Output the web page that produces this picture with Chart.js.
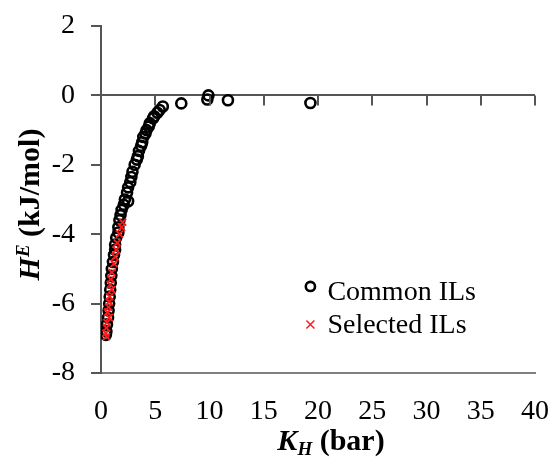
<!DOCTYPE html>
<html>
<head>
<meta charset="utf-8">
<script src="https://cdn.jsdelivr.net/npm/chart.js@4"></script>
<style>
  html, body { margin: 0; padding: 0; background: #fff; }
  #wrap { width: 552px; height: 457px; }
</style>
</head>
<body>
<div id="wrap"><canvas id="chart" width="552" height="457"></canvas></div>
<script>
// values
const commonX = [19.3, 11.7, 9.9, 9.8, 7.4, 5.7, 5.4, 5.2, 4.9, 4.8, 4.5, 4.4, 4.2, 4.1, 3.9, 3.8, 3.7, 3.5, 3.4, 3.3,
  3.1, 2.9, 2.8, 2.7, 2.5, 2.4, 2.2, 2.5, 2.1, 1.9, 1.8, 1.7, 1.6, 1.6, 1.4, 1.3, 1.3, 1.2, 1.1, 1.0,
  0.95, 0.9, 0.85, 0.8, 0.75, 0.7, 0.65, 0.55, 0.5, 0.45];
const commonY = [-0.22, -0.14, 0.0, -0.12, -0.23, -0.32, -0.42, -0.5, -0.6, -0.66, -0.8, -0.9, -1.0, -1.1, -1.2, -1.35, -1.45, -1.6, -1.75, -1.85,
  -2.0, -2.2, -2.35, -2.5, -2.65, -2.8, -3.0, -3.05, -3.15, -3.3, -3.45, -3.6, -3.8, -3.95, -4.1, -4.3, -4.45, -4.6, -4.8, -5.0,
  -5.2, -5.4, -5.6, -5.8, -6.0, -6.2, -6.4, -6.6, -6.8, -6.9];
const selectedX = [2.0, 1.9, 1.7, 1.5, 1.4, 1.3, 1.2, 1.0, 0.9, 0.85, 1.0, 0.8, 0.75, 0.7, 0.6, 0.75, 0.55, 0.5, 0.45, 0.5];
const selectedY = [-3.65, -3.8, -4.0, -4.25, -4.45, -4.65, -4.85, -5.1, -5.3, -5.45, -5.6, -5.8, -5.95, -6.1, -6.25, -6.4, -6.55, -6.7, -6.85, -6.95];
const seriesNames = ['Common ILs', 'Selected ILs'];
const xTicks = [0, 5, 10, 15, 20, 25, 30, 35, 40];
const yTicks = [2, 0, -2, -4, -6, -8];

const serif = "'Liberation Serif', 'Times New Roman', serif";
const axisGray = '#555555';

const toPoints = (xs, ys) => xs.map((x, i) => ({ x: x, y: ys[i] }));

// tick marks on the zero line, axis titles with sub/superscripts, legend inside the plot
const extras = {
  id: 'extras',
  afterDraw(chart) {
    const ctx = chart.ctx;
    const xs = chart.scales.x;
    const ys = chart.scales.y;
    const area = chart.chartArea;
    const y0 = ys.getPixelForValue(0);

    ctx.save();
    ctx.strokeStyle = axisGray;
    ctx.lineWidth = 2;
    xTicks.forEach(v => {
      if (v === 0) return;
      const px = Math.round(xs.getPixelForValue(v));
      ctx.beginPath();
      ctx.moveTo(px, y0);
      ctx.lineTo(px, y0 + 10);
      ctx.stroke();
    });

    // x title: K_H (bar)
    ctx.fillStyle = '#000';
    ctx.textBaseline = 'alphabetic';
    const big = 'bold italic 30px ' + serif;
    const small = 'bold italic 19px ' + serif;
    const plain = 'bold 30px ' + serif;
    ctx.font = big; const wK = ctx.measureText('K').width;
    ctx.font = small; const wH = ctx.measureText('H').width;
    ctx.font = plain; const wB = ctx.measureText(' (bar)').width;
    let cx = (area.left + area.right) / 2 + 13 - (wK + wH + wB) / 2;
    const by = 450;
    ctx.font = big; ctx.fillText('K', cx, by); cx += wK;
    ctx.font = small; ctx.fillText('H', cx, by + 5); cx += wH;
    ctx.font = plain; ctx.fillText(' (bar)', cx, by);

    // y title: H^E (kJ/mol)
    ctx.font = big; const w1 = ctx.measureText('H').width;
    ctx.font = small; const w2 = ctx.measureText('E').width;
    ctx.font = plain; const w3 = ctx.measureText(' (kJ/mol)').width;
    ctx.translate(39, (area.top + area.bottom) / 2 + 5);
    ctx.rotate(-Math.PI / 2);
    let tx = -(w1 + w2 + w3) / 2;
    ctx.font = big; ctx.fillText('H', tx, 0); tx += w1;
    ctx.font = small; ctx.fillText('E', tx, -10); tx += w2;
    ctx.font = plain; ctx.fillText(' (kJ/mol)', tx, 0);
    ctx.restore();

    // legend
    ctx.save();
    const ds = chart.data.datasets;
    const lx = xs.getPixelForValue(19.3);
    const rows = [ys.getPixelForValue(-5.65), ys.getPixelForValue(-6.6)];
    ds.forEach((d, i) => {
      const my = rows[i];
      ctx.strokeStyle = d.borderColor;
      if (d.pointStyle === 'circle') {
        ctx.lineWidth = 2.6;
        ctx.beginPath();
        ctx.arc(lx, my - 5, 4.6, 0, Math.PI * 2);
        ctx.stroke();
      } else {
        ctx.lineWidth = 1.5;
        ctx.beginPath();
        ctx.moveTo(lx - 4, my - 4); ctx.lineTo(lx + 4, my + 4);
        ctx.moveTo(lx + 4, my - 4); ctx.lineTo(lx - 4, my + 4);
        ctx.stroke();
      }
      ctx.fillStyle = '#000';
      ctx.font = '28px ' + serif;
      ctx.textBaseline = 'middle';
      ctx.fillText(d.label, lx + 17, my + 1);
    });
    ctx.restore();
  }
};

new Chart(document.getElementById('chart'), {
  type: 'scatter',
  data: {
    datasets: [
      {
        label: seriesNames[0],
        data: toPoints(commonX, commonY),
        pointStyle: 'circle',
        pointRadius: 5,
        pointBorderWidth: 2.6,
        borderColor: '#000000',
        backgroundColor: 'rgba(0,0,0,0)',
        order: 2
      },
      {
        label: seriesNames[1],
        data: toPoints(selectedX, selectedY),
        pointStyle: 'crossRot',
        pointRadius: 5,
        pointBorderWidth: 1.8,
        borderColor: '#ff1a1a',
        backgroundColor: '#ff1a1a',
        order: 1
      }
    ]
  },
  options: {
    responsive: false,
    animation: false,
    events: [],
    layout: { padding: { top: 26, right: 17, left: 0, bottom: 0 } },
    plugins: {
      legend: { display: false },
      tooltip: { enabled: false }
    },
    scales: {
      x: {
        type: 'linear',
        min: xTicks[0],
        max: xTicks[xTicks.length - 1],
        afterBuildTicks: s => { s.ticks = xTicks.map(v => ({ value: v })); },
        afterFit: s => { s.height = 84; s.paddingLeft = 0; s.paddingRight = 0; },
        border: { display: true, color: '#7f7f7f', width: 2 },
        grid: { display: true, drawOnChartArea: false, drawTicks: false },
        ticks: {
          color: '#000',
          font: { family: serif, size: 28 },
          padding: 22,
          maxRotation: 0,
          callback: v => String(v)
        }
      },
      y: {
        type: 'linear',
        min: yTicks[yTicks.length - 1],
        max: yTicks[0],
        afterBuildTicks: s => { s.ticks = yTicks.slice().reverse().map(v => ({ value: v })); },
        afterFit: s => { s.width = 101; s.paddingTop = 0; s.paddingBottom = 0; },
        border: { display: true, color: axisGray, width: 2 },
        grid: {
          drawOnChartArea: true,
          drawTicks: true,
          tickLength: 10,
          tickColor: axisGray,
          tickWidth: 2,
          color: c => (c.tick && c.tick.value === 0 ? axisGray : 'rgba(0,0,0,0)'),
          lineWidth: 2
        },
        ticks: {
          color: '#000',
          font: { family: serif, size: 28 },
          padding: 16,
          callback: v => String(v)
        }
      }
    }
  },
  plugins: [extras]
});
</script>
</body>
</html>
